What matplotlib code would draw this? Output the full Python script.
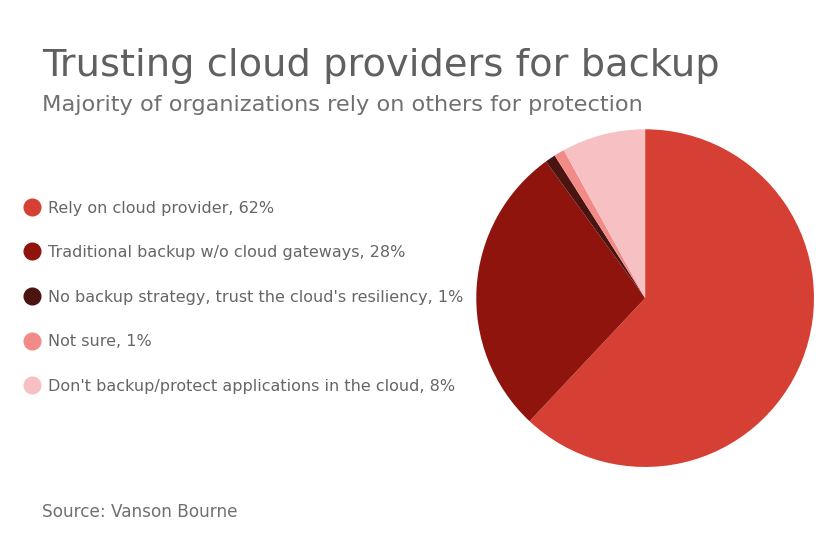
import matplotlib
matplotlib.use("Agg")
import matplotlib.pyplot as plt
from matplotlib.lines import Line2D

labels = ["Rely on cloud provider", "Traditional backup w/o cloud gateways",
          "No backup strategy, trust the cloud's resiliency", "Not sure",
          "Don't backup/protect applications in the cloud"]
shares = [62, 28, 1, 1, 8]
colors = ["#d63f33", "#8f140e", "#4a1410", "#f28a88", "#f7c0c2"]

plt.rcParams['font.family'] = ['DejaVu Sans']

fig = plt.figure(figsize=(8.4, 5.47), dpi=100)

# pie
ax = fig.add_axes([0.768 - 0.201, 0.455 - 0.309, 0.402, 0.618])
ax.pie(shares, colors=colors, startangle=90, counterclock=False,
       wedgeprops=dict(linewidth=0))
ax.set_aspect('equal')
ax.set_xlim(-1, 1)
ax.set_ylim(-1, 1)

fig.text(42/840, 1 - 66/547, "Trusting cloud providers for backup",
         fontsize=27.6, color="#606060", va='center', ha='left')
fig.text(42/840, 1 - 105/547, "Majority of organizations rely on others for protection",
         fontsize=16.2, color="#707070", va='center', ha='left')

handles = [Line2D([], [], marker='o', linestyle='', markersize=12,
                  markerfacecolor=c, markeredgecolor=c) for c in colors]
leg_labels = [f"{l}, {v}%" for l, v in zip(labels, shares)]
fig.legend(handles, leg_labels, loc='upper left', bbox_to_anchor=(22/840, 1 - 200.5/547),
           frameon=False, fontsize=11.5, labelcolor="#666666", labelspacing=1.85,
           handletextpad=0.35, handlelength=1.3, borderpad=0, borderaxespad=0)

fig.text(42/840, 1 - 512/547, "Source: Vanson Bourne", fontsize=12.2,
         color="#707070", va='center', ha='left')

fig.savefig("out.png", dpi=100)
